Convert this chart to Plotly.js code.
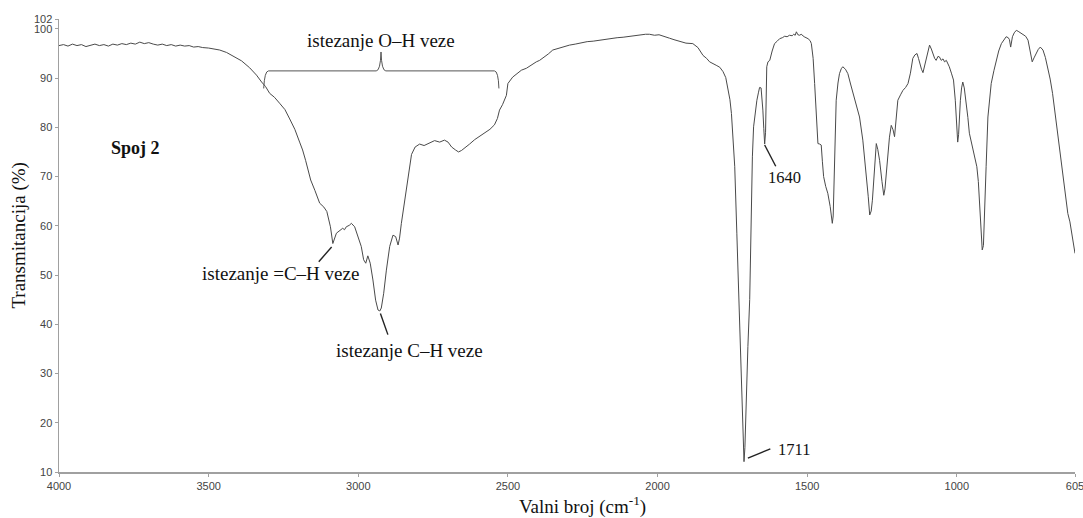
<!DOCTYPE html>
<html>
<head>
<meta charset="utf-8">
<script src="https://cdn.plot.ly/plotly-3.0.1.min.js"></script>
<style>html,body{margin:0;padding:0;background:#fff;}#chart{width:1083px;height:518px;}</style>
</head>
<body>
<div id="chart"></div>
<script>
// Wavenumber (cm-1) and transmittance (%)
const waveNumber = [
4000,3985,3970,3955,3940,3925,3910,3895,3880,3865,3850,3835,3820,3805,3790,3775,3760,3745,3730,3715,
3700,3685,3670,3655,3640,3625,3610,3595,3580,3565,3550,3535,3520,3500,3480,3463,3440,3413,3390,3363,
3340,3323,3310,3296,3280,3263,3245,3229,3212,3196,3186,3176,3168,3159,3145,3129,3115,3105,3093,3085,
3073,3062,3052,3046,3040,3030,3023,3012,3001,2990,2982,2975,2968,2960,2951,2942,2934,2928,2923,2915,
2906,2895,2884,2875,2867,2862,2856,2845,2834,2822,2810,2795,2780,2762,2745,2728,2712,2700,2688,2675,
2665,2655,2644,2628,2611,2595,2578,2560,2545,2535,2528,2518,2505,2500,2484,2470,2455,2438,2420,2405,
2394,2380,2365,2350,2330,2310,2294,2275,2255,2235,2215,2194,2175,2155,2135,2115,2094,2075,2055,2040,
2027,2010,1995,1977,1960,1945,1926,1905,1882,1865,1848,1836,1826,1815,1804,1792,1781,1772,1765,1758,
1753,1747,1742,1735,1728,1720,1714,1711,1708,1705,1698,1692,1687,1683,1679,1673,1668,1663,1659,1654,
1650,1648,1645,1642,1639,1637,1635,1631,1625,1617,1609,1600,1592,1583,1575,1567,1559,1550,1545,1540,
1536,1531,1525,1520,1510,1497,1490,1486,1480,1475,1470,1464,1458,1453,1449,1445,1438,1431,1423,1418,
1416,1413,1410,1407,1403,1397,1392,1386,1381,1372,1364,1355,1347,1336,1325,1314,1308,1302,1296,1291,
1286,1282,1275,1269,1264,1258,1250,1244,1240,1237,1230,1225,1219,1213,1208,1203,1197,1188,1180,1171,
1163,1155,1147,1140,1133,1128,1124,1118,1113,1108,1102,1096,1091,1085,1080,1074,1069,1063,1058,1052,
1046,1041,1035,1030,1025,1018,1011,1005,1000,997,994,991,988,984,980,975,969,963,958,952,
947,940,933,928,924,919,915,911,907,902,896,890,885,876,868,860,851,843,835,828,
824,820,817,814,808,801,795,790,784,779,770,762,755,748,742,735,728,721,716,712,
704,696,688,680,672,663,655,646,638,629,622,617,611,605
];
const transmittance = [
96.6,96.8,96.5,96.9,96.6,96.8,96.4,96.7,96.9,96.6,96.8,96.5,96.9,96.7,97.0,96.8,97.1,96.9,97.3,97.0,
97.2,96.9,96.7,96.9,96.6,96.8,96.5,96.7,96.5,96.6,96.3,96.4,96.2,96.1,95.9,95.7,95.2,94.3,93.5,92.1,
90.6,89.2,88.3,86.9,86.1,84.9,83.6,81.7,79.6,77.0,75.4,73.3,71.6,69.3,67.2,64.6,63.8,62.9,59.8,56.4,
58.5,59.1,59.5,59.2,59.8,60.1,60.5,59.8,57.8,55.8,53.1,52.4,53.9,52.4,49.0,44.9,42.9,42.7,43.3,46.3,
51.0,55.8,58.1,57.8,56.1,57.5,60.5,65.2,69.3,74.5,76.0,76.6,76.3,76.8,77.3,77.0,77.4,77.0,76.0,75.4,
75.0,75.3,75.8,76.6,77.5,78.2,78.9,79.6,80.5,81.8,83.5,84.6,86.5,88.9,90.2,90.8,91.6,92.0,92.8,93.3,
93.6,94.2,94.9,95.7,96.1,96.4,96.7,96.9,97.2,97.4,97.5,97.7,97.9,98.0,98.2,98.3,98.5,98.6,98.8,98.9,
98.9,98.7,98.8,98.5,98.1,97.8,97.4,97.1,97.0,96.2,94.6,94.0,93.3,93.0,92.6,92.2,91.3,90.1,88.2,85.6,
82.8,78.0,72.0,58.5,45.0,28.7,16.0,12.1,15.0,22.0,35.5,45.0,65.3,74.0,80.1,83.2,85.5,87.0,88.1,88.0,
85.5,83.5,79.8,76.6,79.0,86.0,92.3,93.3,93.6,95.5,97.0,97.5,98.0,98.2,98.5,98.4,98.7,98.6,98.9,98.7,
99.4,98.8,98.7,98.9,98.4,98.0,97.6,97.0,94.0,88.9,82.0,76.7,76.6,76.4,73.0,70.0,68.0,66.6,63.9,61.5,
60.5,62.0,68.0,76.0,85.5,89.0,90.9,91.9,92.3,91.8,90.9,88.8,86.9,84.5,82.1,77.4,74.0,70.6,66.0,62.2,
63.0,65.2,72.0,76.7,75.5,73.3,69.0,66.2,67.5,70.0,75.4,78.0,80.4,79.5,78.1,81.5,85.5,86.6,87.5,88.1,
88.9,91.0,94.0,94.7,95.0,94.0,93.0,91.8,91.1,92.5,94.3,95.6,96.7,95.9,95.0,94.0,93.6,94.4,94.3,93.6,
93.9,93.3,93.6,93.0,92.3,91.0,89.6,85.5,80.5,77.0,78.5,83.0,85.5,88.0,89.2,88.0,85.5,82.0,78.8,77.3,
76.0,74.0,72.0,69.0,65.2,60.0,55.1,56.0,61.8,72.0,82.1,86.5,88.9,91.5,93.6,95.5,97.0,97.8,98.4,98.2,
97.8,96.3,97.5,98.4,99.2,99.7,99.5,99.3,99.2,99.0,98.5,97.7,95.8,93.3,94.1,95.0,95.8,96.3,96.0,95.7,
94.2,92.3,89.8,86.9,83.0,78.8,74.5,70.6,66.5,62.5,60.8,59.1,57.0,54.4
];
const xTickVals = [4000,3500,3000,2500,2000,1500,1000,605];
const xTickText = ['4000','3500','3000','2500','2000','1500','1000','605'];
const yTickVals = [10,20,30,40,50,60,70,80,90,100,102];
const yTickText = ['10','20','30','40','50','60','70','80','90','100','102'];

const serif = 'Liberation Serif, Times New Roman, serif';
const sans = 'Liberation Sans, Arial, sans-serif';

const trace = {
  x: waveNumber, y: transmittance, type: 'scatter', mode: 'lines',
  line: {color: '#4a4a4a', width: 1}, hoverinfo: 'x+y'
};

const axisCommon = {
  showgrid: false, zeroline: false, showline: true, linecolor: '#a0a0a0', linewidth: 1.5,
  ticks: 'outside', ticklen: 3, tickwidth: 1, tickcolor: '#a0a0a0',
  tickfont: {family: sans, size: 11, color: '#444444'}, tickmode: 'array',
  ticklabeloverflow: 'allow'
};

const leader = {type: 'line', xref: 'x', yref: 'y', line: {color: '#222', width: 1.4}};

const layout = {
  width: 1083, height: 518,
  margin: {l: 59, r: 8, t: 19, b: 46},
  paper_bgcolor: '#fff', plot_bgcolor: '#fff',
  showlegend: false,
  xaxis: Object.assign({}, axisCommon, {range: [4000, 605], tickvals: xTickVals, ticktext: xTickText}),
  yaxis: Object.assign({}, axisCommon, {range: [10, 102], tickvals: yTickVals, ticktext: yTickText}),
  shapes: [
    Object.assign({}, leader, {x0: 3089, y0: 55.7, x1: 3132, y1: 52.7}),
    Object.assign({}, leader, {x0: 2926, y0: 42.2, x1: 2901, y1: 37.9}),
    Object.assign({}, leader, {x0: 1642, y0: 76.4, x1: 1605, y1: 72.1}),
    Object.assign({}, leader, {x0: 1698, y0: 12.8, x1: 1623, y1: 14.7}),
    {type: 'path', xref: 'x', yref: 'y', line: {color: '#555', width: 1},
     path: 'M 3316,87.9 Q 3313,91.46 3300,91.46 L 2940,91.46 Q 2926,91.46 2924,95.3 Q 2922,91.46 2908,91.46 L 2545,91.46 Q 2532,91.46 2530,87.9'}
  ],
  annotations: [
    {x: 3744, y: 75.8, xref: 'x', yref: 'y', text: '<b>Spoj 2</b>', showarrow: false,
     font: {family: serif, size: 18, color: '#111'}},
    {x: 2924, y: 97.6, xref: 'x', yref: 'y', text: 'istezanje O–H veze', showarrow: false,
     font: {family: serif, size: 19, color: '#111'}},
    {x: 2992, y: 50.4, xref: 'x', yref: 'y', text: 'istezanje =C–H veze', showarrow: false, xanchor: 'right',
     font: {family: serif, size: 19, color: '#111'}},
    {x: 2828, y: 34.6, xref: 'x', yref: 'y', text: 'istezanje C–H veze', showarrow: false,
     font: {family: serif, size: 19, color: '#111'}},
    {x: 1575, y: 69.8, xref: 'x', yref: 'y', text: '1640', showarrow: false,
     font: {family: serif, size: 16.5, color: '#111'}},
    {x: 1605, y: 14.6, xref: 'x', yref: 'y', text: '1711', showarrow: false, xanchor: 'left',
     font: {family: serif, size: 16.5, color: '#111'}},
    {x: 0.515, y: -0.073, xref: 'paper', yref: 'paper', text: 'Valni broj (cm<sup>-1</sup>)', showarrow: false,
     yanchor: 'middle', font: {family: serif, size: 19, color: '#111'}},
    {x: -0.0394, y: 0.524, xref: 'paper', yref: 'paper', text: 'Transmitancija (%)', showarrow: false,
     textangle: -90, xanchor: 'center', yanchor: 'middle', font: {family: serif, size: 19, color: '#111'}}
  ]
};

Plotly.newPlot('chart', [trace], layout, {displayModeBar: false, staticPlot: true});
</script>
</body>
</html>
